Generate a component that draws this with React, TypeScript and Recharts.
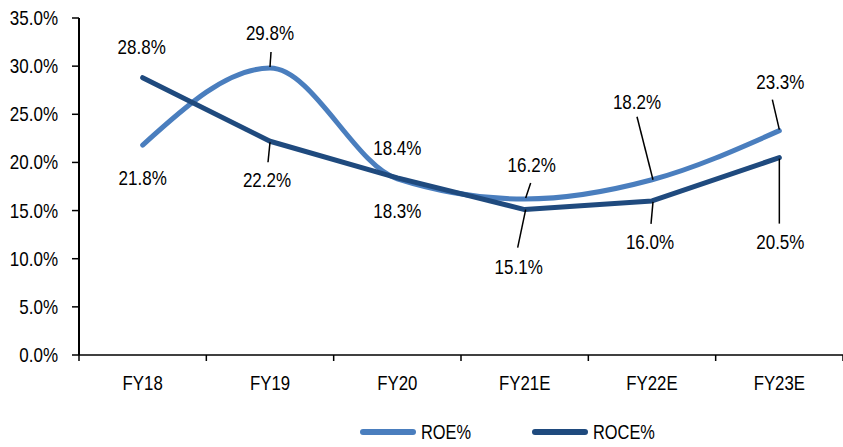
import React from 'react';
import { LineChart, Line, XAxis, YAxis, LabelList, Legend } from 'recharts';

const categories = ['FY18', 'FY19', 'FY20', 'FY21E', 'FY22E', 'FY23E'];
const roeValues = [21.8, 29.8, 18.3, 16.2, 18.2, 23.3];
const roceValues = [28.8, 22.2, 18.4, 15.1, 16.0, 20.5];
const yTicks = [0, 5, 10, 15, 20, 25, 30, 35];

const data = categories.map((name, i) => ({
  pos: i + 0.5,
  name,
  roe: roeValues[i],
  roce: roceValues[i],
}));
const xTicks: number[] = [];
for (let i = 0; i <= categories.length * 2; i++) xTicks.push(i / 2);

const FONT = '"Liberation Sans", Arial, sans-serif';
const ROE_COLOR = '#4A7EBE';
const ROCE_COLOR = '#1F4A7E';

// label placement: [dx, dy, leader (x1,y1,x2,y2) or null]
type Cfg = [number, number, number[] | null];
const roeLabelCfg: Cfg[] = [
  [0, 33, null],
  [0, -35, [0, -1, 1, -16]],
  [0, 32, null],
  [7, -34, [1, -1, 6, -16]],
  [-15, -78, [1, 0, -15, -63]],
  [1, -49, [0, -1, -7, -31]],
];
const roceLabelCfg: Cfg[] = [
  [-1, -31, null],
  [-3, 39, [0, 1, -2, 21]],
  [0, -30, null],
  [-6, 57, [1, 0, -7, 38]],
  [-2, 41, [1, 1, -1, 23]],
  [1, 84, [0, 1, 0, 66]],
];

const NarrowText = ({ x, y, anchor, size, sx, children }: any) => (
  <text
    transform={`translate(${x},${y}) scale(${sx},1)`}
    x={0}
    y={0}
    textAnchor={anchor}
    dominantBaseline="central"
    fontFamily={FONT}
    fontSize={size}
    fill="#000"
  >
    {children}
  </text>
);

const makeLabel = (cfg: Cfg[]) => (props: any) => {
  const { x, y, value, index } = props;
  const c = cfg[index];
  if (!c) return null;
  const [dx, dy, leader] = c;
  return (
    <g>
      {leader && (
        <line
          x1={x + leader[0]}
          y1={y + leader[1]}
          x2={x + leader[2]}
          y2={y + leader[3]}
          stroke="#000"
          strokeWidth={1.5}
        />
      )}
      <NarrowText x={x + dx} y={y + dy} anchor="middle" size={21} sx={0.81}>
        {`${Number(value).toFixed(1)}%`}
      </NarrowText>
    </g>
  );
};

const XTick = (props: any) => {
  const { x, y, payload } = props;
  const v = payload.value as number;
  if (Number.isInteger(v)) {
    return <line x1={x} y1={y} x2={x} y2={y + 6} stroke="#000" strokeWidth={1.5} />;
  }
  const name = categories[Math.floor(v)];
  return (
    <NarrowText x={x} y={y + 28} anchor="middle" size={21} sx={0.8}>
      {name}
    </NarrowText>
  );
};

const YTick = (props: any) => {
  const { x, y, payload } = props;
  return (
    <NarrowText x={x} y={y} anchor="end" size={20} sx={0.85}>
      {`${Number(payload.value).toFixed(1)}%`}
    </NarrowText>
  );
};

const legendItems = [
  { label: 'ROE%', color: ROE_COLOR },
  { label: 'ROCE%', color: ROCE_COLOR },
];

const LegendContent = () => (
  <div style={{ position: 'relative', width: 320, height: 24, fontFamily: FONT, fontSize: 21, color: '#000' }}>
    {legendItems.map((it, i) => (
      <div
        key={it.label}
        style={{ position: 'absolute', left: i * 172, top: 0, height: 24, display: 'flex', alignItems: 'center' }}
      >
        <svg width={56} height={8} style={{ marginRight: 5, display: 'block' }}>
          <line x1={3} y1={4} x2={53} y2={4} stroke={it.color} strokeWidth={6} strokeLinecap="round" />
        </svg>
        <span style={{ display: 'inline-block', transform: 'scaleX(0.78)', transformOrigin: 'left center', lineHeight: '24px' }}>
          {it.label}
        </span>
      </div>
    ))}
  </div>
);

export default function App() {
  return (
    <div style={{ position: 'absolute', left: 0, top: 0, width: 843, height: 447, background: '#fff' }}>
      <LineChart width={843} height={447} data={data} margin={{ top: 18, right: 0, bottom: 28, left: 0 }}>
        <XAxis
          dataKey="pos"
          type="number"
          domain={[0, categories.length]}
          ticks={xTicks}
          interval={0}
          tick={<XTick />}
          tickLine={false}
          tickSize={0}
          tickMargin={0}
          axisLine={{ stroke: '#000', strokeWidth: 1.5 }}
          height={40}
          allowDataOverflow
        />
        <YAxis
          type="number"
          domain={[0, 35]}
          ticks={yTicks}
          interval={0}
          width={79}
          tickSize={7}
          tickMargin={14}
          tick={<YTick />}
          tickLine={{ stroke: '#000', strokeWidth: 1.5 }}
          axisLine={{ stroke: '#000', strokeWidth: 2 }}
        />
        <Legend
          verticalAlign="bottom"
          content={<LegendContent />}
          wrapperStyle={{ left: 360, top: 420, width: 320, height: 24 }}
        />
        <Line
          type="monotone"
          dataKey="roe"
          name="ROE%"
          stroke={ROE_COLOR}
          strokeWidth={5}
          dot={false}
          isAnimationActive={false}
          strokeLinecap="round"
        >
          <LabelList dataKey="roe" content={makeLabel(roeLabelCfg)} />
        </Line>
        <Line
          type="linear"
          dataKey="roce"
          name="ROCE%"
          stroke={ROCE_COLOR}
          strokeWidth={5}
          dot={false}
          isAnimationActive={false}
          strokeLinecap="round"
          strokeLinejoin="round"
        >
          <LabelList dataKey="roce" content={makeLabel(roceLabelCfg)} />
        </Line>
      </LineChart>
    </div>
  );
}
